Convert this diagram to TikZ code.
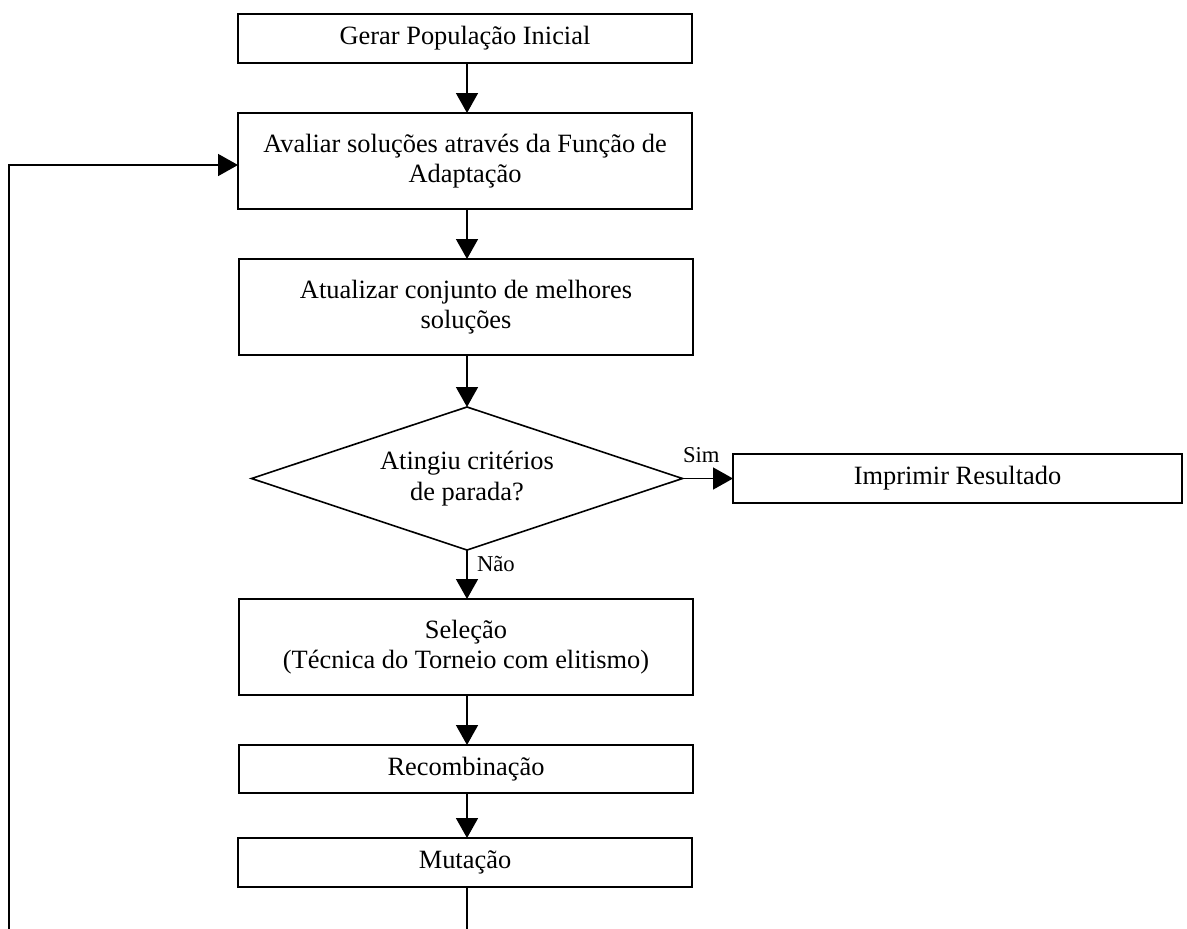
\documentclass[tikz,border=0pt]{standalone}
\usepackage{fontspec}
\setmainfont{Liberation Serif}
\usetikzlibrary{shapes.geometric,arrows.meta}

\begin{document}
\begin{tikzpicture}[
  x=0.75pt, y=-0.75pt,
  every node/.style={font=\fontsize{19.8pt}{23pt}\selectfont, align=center, inner sep=0pt, outer sep=0pt},
  stepbox/.style={draw, line width=1.3pt, minimum width=454*0.75pt},
  decision/.style={draw, line width=1.2pt, diamond, aspect=3.014, minimum width=431*0.75pt, minimum height=143*0.75pt},
  lbl/.style={font=\fontsize{17pt}{20pt}\selectfont, anchor=base west},
  arr/.style={line width=1.2pt, -{Triangle[length=15pt,width=16.5pt]}}
]
\useasboundingbox (0,0) rectangle (1187,928);

% main column of process steps
\node[stepbox, minimum height=49*0.75pt] (gerar) at (465,38.5) {Gerar População Inicial};
\node[stepbox, minimum height=96*0.75pt] (avaliar) at (465,161) {Avaliar soluções através da Função de\\Adaptação};
\node[stepbox, minimum height=96*0.75pt] (atual) at (466,307) {Atualizar conjunto de melhores\\soluções};
\node[decision] (dec) at (467,478.5) {Atingiu critérios\\de parada?};
\node[stepbox, minimum width=449*0.75pt, minimum height=49*0.75pt] (impr) at (957.5,478.5) {Imprimir Resultado};
\node[stepbox, minimum height=96*0.75pt] (sel) at (466,647) {Seleção\\(Técnica do Torneio com elitismo)};
\node[stepbox, minimum height=48*0.75pt] (recomb) at (466,769) {Recombinação};
\node[stepbox, minimum height=49*0.75pt] (mut) at (465,862.5) {Mutação};

% branch labels
\node[lbl] (sim) at (683,462) {Sim};
\node[lbl] (nao) at (477,571) {Não};

% flow connectors
\draw[arr] (gerar.south -| 467,0) -- (avaliar.north -| 467,0);
\draw[arr] (avaliar.south -| 467,0) -- (atual.north -| 467,0);
\draw[arr] (atual.south -| 467,0) -- (dec.north);
\draw[arr] (dec.east) -- (impr.west);
\draw[arr] (dec.south) -- (sel.north -| dec.south);
\draw[arr] (sel.south -| 467,0) -- (recomb.north -| 467,0);
\draw[arr] (recomb.south -| 467,0) -- (mut.north -| 467,0);

% feedback loop back to the evaluation step
\coordinate (lb) at (9,950);
\coordinate (lt) at (9,165);
\draw[arr] (mut.south -| 467,0) |- (lb) -- (lt) -- (lt -| avaliar.west);
\end{tikzpicture}
\end{document}
